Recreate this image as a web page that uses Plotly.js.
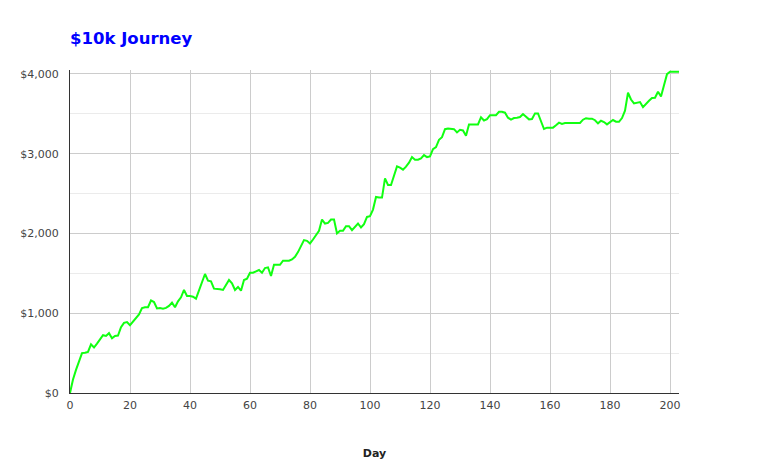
<!DOCTYPE html>
<html>
<head>
<meta charset="utf-8">
<script src="https://cdn.plot.ly/plotly-3.0.1.min.js"></script>
<style>html,body{margin:0;padding:0;background:#fff;}#chart{width:768px;height:471px;}</style>
</head>
<body>
<div id="chart"></div>
<script>
const chartTitle = "$10k Journey";
const xAxisTitle = "Day";
const balance = [
  0,170,290,410,500,505,515,610,570,620,
  670,725,715,750,685,715,720,825,880,890,
  850,900,945,985,1065,1075,1075,1160,1140,1060,
  1065,1058,1067,1092,1133,1075,1150,1200,1292,1217,
  1217,1208,1183,1292,1392,1492,1408,1400,1308,1308,
  1300,1292,1350,1417,1375,1292,1330,1283,1417,1433,
  1508,1508,1525,1542,1508,1567,1575,1467,1608,1608,
  1608,1658,1658,1658,1675,1708,1767,1833,1917,1908,
  1875,1925,1975,2033,2175,2125,2133,2175,2175,2000,
  2033,2033,2092,2092,2042,2083,2125,2075,2117,2208,
  2217,2300,2458,2450,2450,2692,2608,2608,2733,2842,
  2825,2800,2838,2888,2958,2925,2925,2942,2983,2958,
  2967,3058,3083,3175,3208,3308,3317,3317,3308,3267,
  3300,3292,3225,3367,3367,3367,3367,3458,3417,3433,
  3483,3483,3483,3525,3525,3515,3452,3427,3448,3452,
  3460,3498,3464,3431,3435,3506,3506,3418,3310,3327,
  3323,3327,3356,3390,3373,3385,3385,3385,3385,3381,
  3385,3427,3446,3440,3440,3420,3381,3414,3398,3368,
  3400,3423,3402,3400,3448,3540,3765,3680,3631,3635,
  3648,3585,3631,3665,3698,3702,3777,3719,3860,3998,
  4027,4027,4027,4027
];
const days = balance.map((_, i) => i);

const trace = {
  x: days,
  y: balance,
  type: 'scatter',
  mode: 'lines',
  line: {color: '#11ff11', width: 2},
  hoverinfo: 'x+y'
};

const layout = {
  width: 768,
  height: 471,
  margin: {l: 70, r: 89, t: 70, b: 78},
  paper_bgcolor: '#fff',
  plot_bgcolor: '#fff',
  showlegend: false,
  font: {family: 'DejaVu Sans, Verdana, sans-serif', size: 11, color: '#444'},
  title: {
    text: chartTitle,
    font: {family: 'DejaVu Sans, Verdana, sans-serif', size: 16.5, color: '#0000ff', weight: 'bold'},
    x: 70 / 768, xref: 'container', xanchor: 'left',
    y: 1 - 38 / 471, yref: 'container', yanchor: 'middle'
  },
  xaxis: {
    range: [0, 203],
    dtick: 20,
    tick0: 0,
    showgrid: true,
    gridcolor: '#cccccc',
    gridwidth: 1,
    zeroline: false,
    showline: true,
    linecolor: '#333333',
    linewidth: 1,
    ticks: '',
    ticklabelstandoff: 2,
    tickfont: {size: 11, color: '#444'},
    title: {text: xAxisTitle, font: {size: 11, color: '#222', weight: 'bold'}, standoff: 38},
    automargin: false,
    fixedrange: true
  },
  yaxis: {
    range: [0, 4050],
    dtick: 1000,
    tick0: 0,
    tickprefix: '$',
    tickformat: ',d',
    showgrid: true,
    gridcolor: '#cccccc',
    gridwidth: 1,
    minor: {dtick: 500, showgrid: true, gridcolor: '#ebebeb', gridwidth: 1, ticks: ''},
    zeroline: false,
    showline: true,
    linecolor: '#333333',
    linewidth: 1,
    ticks: '',
    ticklabelstandoff: 8,
    tickfont: {size: 11, color: '#444'},
    automargin: false,
    fixedrange: true
  }
};

Plotly.newPlot('chart', [trace], layout, {displayModeBar: false});
</script>
</body>
</html>
